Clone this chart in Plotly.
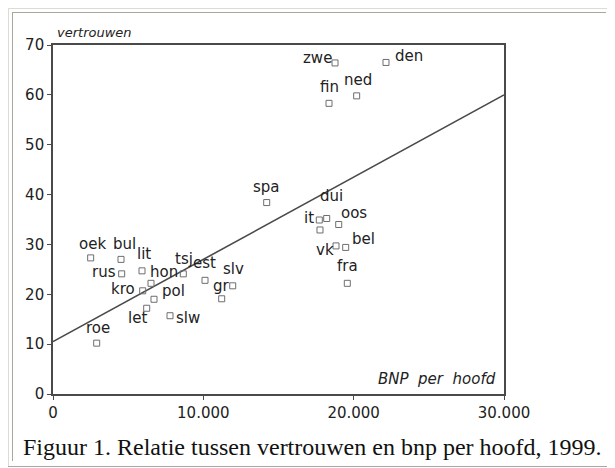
import plotly.graph_objects as go

# ---- data ----
countries = ["zwe", "den", "ned", "fin", "spa", "dui", "it", "", "oos", "vk", "bel", "fra",
             "oek", "bul", "rus", "lit", "hon", "kro", "pol", "let", "slw", "tsj", "est",
             "slv", "gr", "roe"]
bnp = [18760, 22150, 20200, 18360, 14215, 18206, 17714, 17760, 19005, 18825, 19470, 19577,
       2506, 4523, 4567, 5920, 6519, 5967, 6719, 6233, 7783, 8668, 10111,
       11954, 11222, 2907]
vertrouwen = [66.4, 66.5, 59.8, 58.3, 38.4, 35.2, 34.9, 32.9, 34.0, 29.7, 29.4, 22.2,
              27.3, 27.0, 24.1, 24.7, 22.2, 20.7, 19.0, 17.2, 15.7, 24.1, 22.8,
              21.7, 19.1, 10.2]
trend_x = [0, 30000]
trend_y = [10.5, 60.0]
x_tickvals = [0, 10000, 20000, 30000]
x_ticktext = ["0", "10.000", "20.000", "30.000"]
y_tickvals = [0, 10, 20, 30, 40, 50, 60, 70]

# ---- label offsets in pixels (styling) ----
label_dx = [-18, 23, 1, 0, 0, 5, -10, 0, 15, -11, 18, 0,
            2, 3, -18, 2, 13, -20, 19, -9, 18, 1, -1,
            1, 0, 1]
label_dy = [5, 6, 16, 16, 16, 23, 2, 0, 11, -4, 8, 17,
            14, 15, 2, 17, 11, 2, 8, -10, -2, 15, 17,
            17, 13, 15]

FONT = "DejaVu Sans"

# page body has an 8px margin: the figure starts at screen (8, 8)
OFF = 8
W, H = 615 - OFF, 468 - OFF
# plot area in screen pixels
L, R, T, B = 53, 504, 45, 394
PW, PH = R - L, B - T

fig = go.Figure()
fig.add_trace(go.Scatter(x=trend_x, y=trend_y, mode="lines",
                         line=dict(color="#4a4a4a", width=1.6), hoverinfo="skip"))
fig.add_trace(go.Scatter(x=bnp, y=vertrouwen, mode="markers", text=countries,
                         marker=dict(symbol="square-open", size=6, color="#6e6e6e",
                                     line=dict(width=1, color="#6e6e6e"))))

annotations = []
for name, xv, yv, dx, dy in zip(countries, bnp, vertrouwen, label_dx, label_dy):
    if not name:
        continue
    annotations.append(dict(x=xv, y=yv, xref="x", yref="y", text=name, showarrow=False,
                            xshift=dx, yshift=dy,
                            font=dict(family=FONT, size=15, color="#222222")))


def px(xp):
    return (xp - L) / PW


def py(yp):
    return (B - yp) / PH


annotations.append(dict(x=px(55), y=py(32), xref="paper", yref="paper", text="vertrouwen",
                        showarrow=False, xanchor="left", yanchor="middle",
                        font=dict(family=FONT, size=13, color="#222222", style="italic")))
annotations.append(dict(x=px(498), y=py(379), xref="paper", yref="paper",
                        text="BNP\u00a0\u00a0per\u00a0\u00a0hoofd",
                        showarrow=False, xanchor="right", yanchor="middle",
                        font=dict(family=FONT, size=15, color="#222222", style="italic")))
annotations.append(dict(x=px(21), y=py(447), xref="paper", yref="paper",
                        text="Figuur 1. Relatie tussen vertrouwen en bnp per hoofd, 1999.",
                        showarrow=False, xanchor="left", yanchor="middle",
                        font=dict(family="Liberation Serif", size=24, color="#111111")))

shapes = []


def hline(yp, x0p, x1p, color):
    shapes.append(dict(type="line", xref="paper", yref="paper", x0=px(x0p), x1=px(x1p),
                       y0=py(yp), y1=py(yp), line=dict(color=color, width=1)))


def vline(xp, y0p, y1p, color):
    shapes.append(dict(type="line", xref="paper", yref="paper", x0=px(xp), x1=px(xp),
                       y0=py(y0p), y1=py(y1p), line=dict(color=color, width=1)))


hline(8.5, 8, 612, "#dcdcd4")
vline(8.5, 8, 467, "#dcdcd4")
vline(611.5, 8, 467, "#a8a8a8")
hline(466.5, 8, 612, "#a8a8a8")
hline(12.5, 12, 606, "#a8a8a0")
vline(12.5, 12, 461, "#a8a8a0")

fig.update_layout(
    width=W, height=H,
    margin=dict(l=L - OFF, r=615 - R, t=T - OFF, b=468 - B),
    paper_bgcolor="white", plot_bgcolor="white",
    showlegend=False,
    annotations=annotations,
    shapes=shapes,
    xaxis=dict(range=[0, 30000], tickvals=x_tickvals, ticktext=x_ticktext,
               showgrid=False, zeroline=False, showline=True, mirror=True,
               linecolor="#4a4a4a", linewidth=1.6, ticks="outside", ticklen=4,
               tickcolor="#4a4a4a", ticklabelstandoff=0,
               tickfont=dict(family=FONT, size=15, color="#222222")),
    yaxis=dict(range=[0, 70], tickvals=y_tickvals,
               showgrid=False, zeroline=False, showline=True, mirror=True,
               linecolor="#4a4a4a", linewidth=1.6, ticks="outside", ticklen=4,
               tickcolor="#4a4a4a",
               tickfont=dict(family=FONT, size=15, color="#222222")),
)

fig.write_html("out.html")
